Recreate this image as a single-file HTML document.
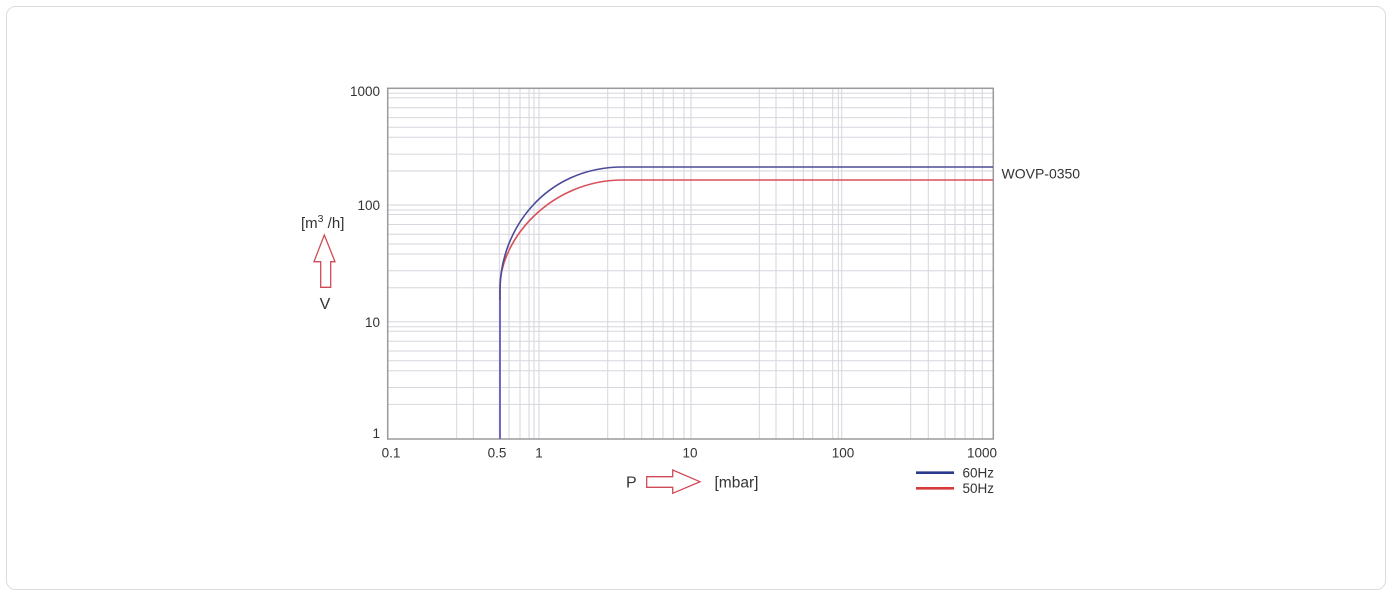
<!DOCTYPE html>
<html>
<head>
<meta charset="utf-8">
<style>
html,body{margin:0;padding:0;background:#fff;}
body{width:1392px;height:596px;overflow:hidden;}
svg{display:block;}
text{font-family:"Liberation Sans",Arial,sans-serif;fill:#333;}
</style>
</head>
<body>
<svg width="1392" height="596" viewBox="0 0 1392 596" xmlns="http://www.w3.org/2000/svg">
  <rect x="6.5" y="6.5" width="1379" height="583" rx="9" ry="9" fill="#fff" stroke="#dcdcdc" stroke-width="1"/>

  <!-- grid -->
  <g stroke="#d6d6de" stroke-width="1" fill="none">
    <!-- vertical -->
    <path d="M456.7 88V439 M473.3 88V439 M499.3 88V439 M509 88V439 M520 88V439 M529 88V439 M534 88V439 M539 88V439
             M607.7 88V439 M624.3 88V439 M641.7 88V439 M653.3 88V439 M663 88V439 M673.3 88V439 M684 88V439 M691 88V439
             M759.3 88V439 M776 88V439 M793.3 88V439 M803.3 88V439 M812.7 88V439 M832.7 88V439 M838.3 88V439 M841.7 88V439
             M910.7 88V439 M928.3 88V439 M945 88V439 M955 88V439 M965 88V439 M973.3 88V439 M982.3 88V439"/>
    <!-- horizontal -->
    <path d="M388 93.3H993 M388 97.8H993 M388 107.8H993 M388 117.6H993 M388 127.3H993 M388 137.3H993 M388 154.1H993 M388 171H993 M388 205H993
             M388 210H993 M388 214.5H993 M388 224.5H993 M388 234.3H993 M388 244H993 M388 254H993 M388 270.8H993 M388 287.7H993 M388 321.7H993
             M388 326.7H993 M388 331.2H993 M388 341.2H993 M388 351H993 M388 360.7H993 M388 370.7H993 M388 387.5H993 M388 404.4H993"/>
  </g>

  <!-- frame -->
  <rect x="387.7" y="88.3" width="605.6" height="350.7" fill="none" stroke="#9a9a9a" stroke-width="1.5"/>

  <!-- curves -->
  <path d="M500 439 L500 287 C500 240 550 180 623 180 L993 180" fill="none" stroke="#d9505a" stroke-width="1.6"/>
  <path d="M500 439 L500 290 C500 230 545 167 623 167 L993 167" fill="none" stroke="#4a4a98" stroke-width="1.6"/>
  <path d="M500 439 L500 300" fill="none" stroke="#6a6ad0" stroke-width="1.6"/>

  <!-- y tick labels -->
  <g font-size="13.5" text-anchor="end">
    <text x="380" y="96">1000</text>
    <text x="380" y="210">100</text>
    <text x="380" y="327">10</text>
    <text x="380" y="438">1</text>
  </g>
  <!-- x tick labels -->
  <g font-size="13.5" text-anchor="middle">
    <text x="391" y="457.5">0.1</text>
    <text x="497" y="457.5">0.5</text>
    <text x="539" y="457.5">1</text>
    <text x="690" y="457.5">10</text>
    <text x="843" y="457.5">100</text>
    <text x="982" y="457.5">1000</text>
  </g>

  <!-- series label -->
  <text x="1001.5" y="178.5" font-size="14">WOVP-0350</text>

  <!-- y axis title -->
  <text x="301" y="228" font-size="15">[m<tspan font-size="10.5" dy="-6">3</tspan><tspan dy="6"> /h]</tspan></text>
  <path d="M324.3 235 L335 261.7 L330.7 261.7 L330.7 287.3 L320.7 287.3 L320.7 261.7 L314 261.7 Z" fill="none" stroke="#d04a55" stroke-width="1.3" stroke-linejoin="miter"/>
  <text x="325" y="309" font-size="16" text-anchor="middle">V</text>

  <!-- x axis title -->
  <text x="626" y="487.5" font-size="16">P</text>
  <path d="M646.7 476.7 L672.7 476.7 L672.7 470 L700 481.7 L672.7 493.3 L672.7 487.3 L646.7 487.3 Z" fill="none" stroke="#d04a55" stroke-width="1.3"/>
  <text x="714.5" y="487.5" font-size="15.5">[mbar]</text>

  <!-- legend -->
  <line x1="916" y1="472.7" x2="954" y2="472.7" stroke="#2a3a8c" stroke-width="2.6"/>
  <line x1="916" y1="488.3" x2="954" y2="488.3" stroke="#d63a3a" stroke-width="2.6"/>
  <text x="962.5" y="477.5" font-size="13.5">60Hz</text>
  <text x="962.5" y="493" font-size="13.5">50Hz</text>
</svg>
</body>
</html>
